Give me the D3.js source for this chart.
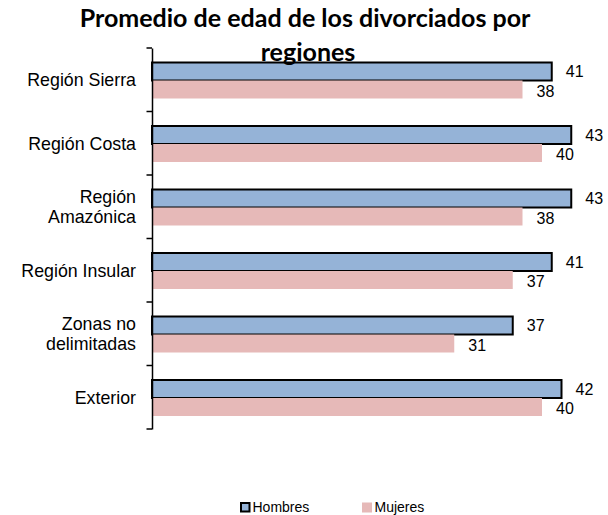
<!DOCTYPE html>
<html>
<head>
<meta charset="utf-8">
<script src="https://cdn.jsdelivr.net/npm/d3@7"></script>
<style>
  html, body { margin: 0; padding: 0; background: #fff; }
  svg { display: block; }
</style>
</head>
<body>
<svg id="chart" width="608" height="515"></svg>
<script>
const categories = ["Región Sierra", "Región Costa", "Región Amazónica", "Región Insular", "Zonas no delimitadas", "Exterior"];
const categoryLines = [["Región Sierra"], ["Región Costa"], ["Región", "Amazónica"], ["Región Insular"], ["Zonas no", "delimitadas"], ["Exterior"]];
const seriesNames = ["Hombres", "Mujeres"];
const hombres = [41, 43, 43, 41, 37, 42];
const mujeres = [38, 40, 38, 37, 31, 40];
const titleLines = ["Promedio de edad de los divorciados por", "regiones"];

const svg = d3.select("#chart");
const colors = { Hombres: "#95B3D7", Mujeres: "#E6B9B8" };
const sans = "Liberation Sans, Arial, sans-serif";

const x = d3.scaleLinear().domain([0, 40]).range([152, 542]);
const y = d3.scaleBand().domain(categories).range([48, 429]);
const inner = d3.scaleBand().domain(seriesNames).range([14.5, 50.5]);

const data = categories.map((c, i) => ({ cat: c, lines: categoryLines[i], Hombres: hombres[i], Mujeres: mujeres[i] }));

// bars
const g = svg.append("g");
data.forEach(d => {
  seriesNames.forEach(s => {
    const by = y(d.cat) + inner(s);
    g.append("rect")
      .attr("x", x(0))
      .attr("y", by)
      .attr("width", x(d[s]) - x(0))
      .attr("height", inner.bandwidth())
      .attr("fill", colors[s])
      .attr("stroke", s === "Hombres" ? "#000" : "none")
      .attr("stroke-width", s === "Hombres" ? 2 : 0);
    g.append("text")
      .attr("x", x(d[s]) + 14)
      .attr("y", by + inner.bandwidth() / 2 + (s === "Hombres" ? 5.5 : 7))
      .attr("font-family", sans)
      .attr("font-size", 16)
      .attr("fill", "#000")
      .text(d[s]);
  });
});

// axis
const axis = d3.axisLeft(y).tickSize(0).tickFormat("");
const ax = svg.append("g").attr("transform", "translate(152,0)").call(axis);
ax.select(".domain").attr("stroke", "#000").attr("stroke-width", 1.5);
const boundaries = categories.map(c => y(c)).concat([y.range()[1]]);
svg.append("g").selectAll("line").data(boundaries).join("line")
  .attr("x1", 146.5).attr("x2", 152)
  .attr("y1", d => d).attr("y2", d => d)
  .attr("stroke", "#000").attr("stroke-width", 1.5);

// category labels
data.forEach(d => {
  const cy = y(d.cat) + y.bandwidth() / 2;
  const n = d.lines.length;
  const lh = 20.5;
  d.lines.forEach((ln, j) => {
    svg.append("text")
      .attr("x", 136)
      .attr("y", cy + (j - (n - 1) / 2) * lh + 6.4)
      .attr("text-anchor", "end")
      .attr("font-family", sans)
      .attr("font-size", 17.8)
      .attr("fill", "#000")
      .text(ln);
  });
});

// title
const t1 = svg.append("text")
  .attr("x", 305).attr("y", 26.7)
  .attr("text-anchor", "middle")
  .attr("font-family", "Lato, 'Open Sans', sans-serif")
  .attr("font-weight", "bold")
  .attr("font-size", 20)
  .attr("fill", "#000")
  .text(titleLines[0]);
const w = t1.node().getComputedTextLength();
const fs = 20 * 451 / w;
t1.attr("font-size", fs);
svg.append("text")
  .attr("x", 308).attr("y", 60.5)
  .attr("text-anchor", "middle")
  .attr("font-family", "Lato, 'Open Sans', sans-serif")
  .attr("font-weight", "bold")
  .attr("font-size", fs)
  .attr("fill", "#000")
  .text(titleLines[1]);

// legend
const legendX = { Hombres: 240, Mujeres: 362 };
seriesNames.forEach(s => {
  const lx = legendX[s];
  svg.append("rect")
    .attr("x", lx + (s === "Hombres" ? 1 : 0)).attr("y", 503 + (s === "Hombres" ? 0 : -0.5))
    .attr("width", s === "Hombres" ? 8.5 : 10).attr("height", s === "Hombres" ? 8.5 : 10)
    .attr("fill", colors[s])
    .attr("stroke", s === "Hombres" ? "#000" : "none")
    .attr("stroke-width", 2);
  svg.append("text")
    .attr("x", lx + 12.5).attr("y", 512.3)
    .attr("font-family", sans)
    .attr("font-size", 14)
    .attr("fill", "#000")
    .text(s);
});
</script>
</body>
</html>
